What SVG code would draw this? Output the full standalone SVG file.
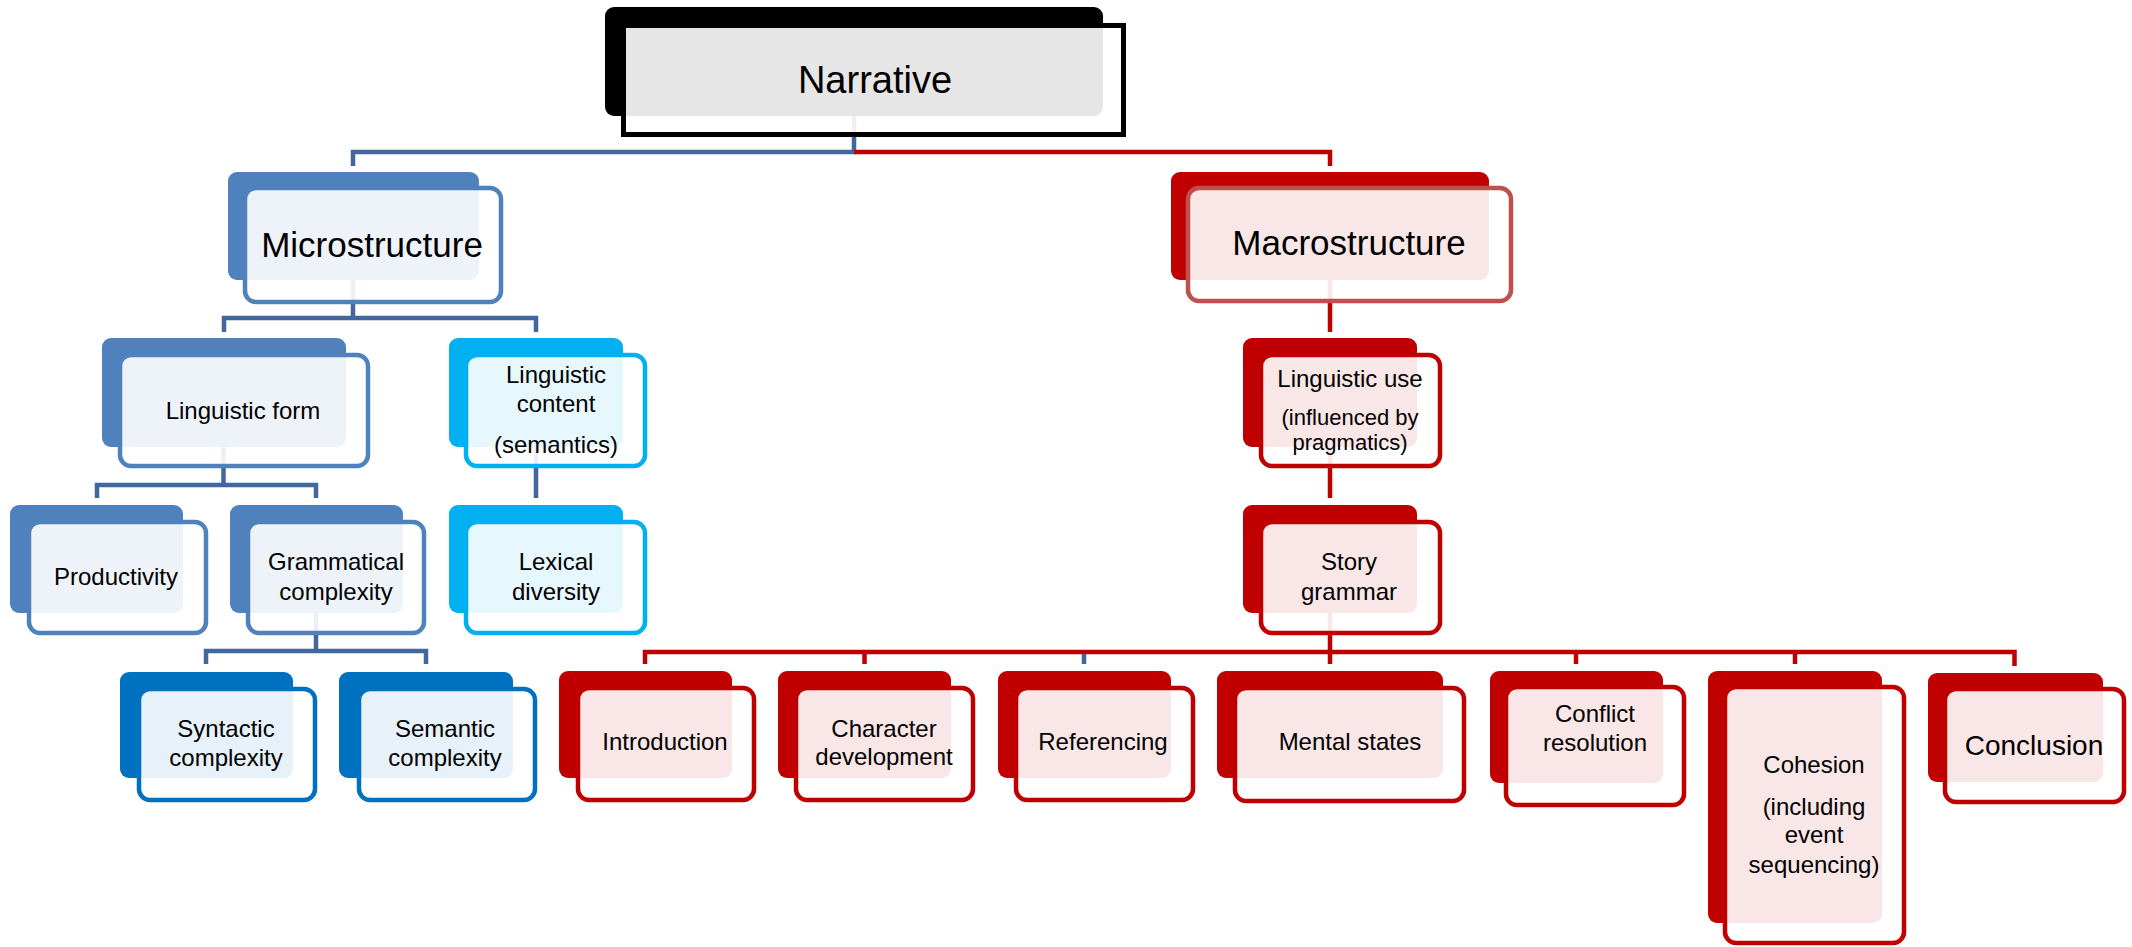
<svg xmlns="http://www.w3.org/2000/svg" width="2132" height="947" viewBox="0 0 2132 947">
<style>
.t{font-family:"Liberation Sans",Arial,sans-serif;fill:#000;text-anchor:middle;font-size:24px}
.f38{font-size:38px}.f35{font-size:35px}.f28{font-size:28px}.f22{font-size:22px}
.fr{fill:#fff;fill-opacity:.9;stroke-width:4.5}
.k{fill:#000}.ks{stroke:#000;stroke-width:5}
.b{fill:#4F81BD}.bs{stroke:#4F81BD}
.c{fill:#00B0F0}.cs{stroke:#00B0F0}
.d{fill:#0070C0}.ds{stroke:#0070C0}
.r{fill:#C00000}.rs{stroke:#C00000}.rs2{stroke:#C0504D}
.cb{fill:none;stroke:#41679C;stroke-width:4.5}
.cr{fill:none;stroke:#C00000;stroke-width:4.5}
</style>
<rect width="2132" height="947" fill="#fff"/>
<g id="connectors">
<path class="cb" d="M854,116V152H353V166"/>
<path class="cr" d="M854,152H1330V166"/>
<path class="cb" d="M353,280V318M224,332V318H536V332"/>
<path class="cb" d="M223.5,447V485M97,498V485H316V498"/>
<path class="cb" d="M536,447V498"/>
<path class="cb" d="M316,613V651M206,664V651H426V664"/>
<path class="cr" d="M1330,280V332"/>
<path class="cr" d="M1330,447V498"/>
<path class="cr" d="M1330,613V664M645,664V652H2014.5V666M864.5,652V664M1576,652V664M1795,652V664"/>
<path class="cb" d="M1084,654V664"/>
</g>
<g id="n-narrative">
<rect class="k" x="605" y="7" width="498" height="109" rx="9"/>
<rect class="fr ks" x="623.5" y="25.5" width="500" height="109"/>
<text class="t f38" x="875" y="93">Narrative</text>
</g>
<g id="n-micro">
<rect class="b" x="228" y="172" width="251" height="108" rx="9"/>
<rect class="fr bs" x="245" y="188" width="256" height="114" rx="11"/>
<text class="t f35" x="372" y="257">Microstructure</text>
</g>
<g id="n-lform">
<rect class="b" x="102" y="338" width="244" height="109" rx="9"/>
<rect class="fr bs" x="120" y="355" width="248" height="111" rx="11"/>
<text class="t" x="243" y="419">Linguistic form</text>
</g>
<g id="n-lcontent">
<rect class="c" x="449" y="338" width="174" height="109" rx="9"/>
<rect class="fr cs" x="466" y="355" width="179" height="111" rx="11"/>
<text class="t" x="556" y="383">Linguistic</text>
<text class="t" x="556" y="412">content</text>
<text class="t" x="556" y="453">(semantics)</text>
</g>
<g id="n-productivity">
<rect class="b" x="10" y="505" width="173" height="108" rx="9"/>
<rect class="fr bs" x="29" y="522" width="177" height="111" rx="11"/>
<text class="t" x="116" y="585">Productivity</text>
</g>
<g id="n-grammatical">
<rect class="b" x="230" y="505" width="173" height="108" rx="9"/>
<rect class="fr bs" x="248" y="522" width="176" height="111" rx="11"/>
<text class="t" x="336" y="570">Grammatical</text>
<text class="t" x="336" y="600">complexity</text>
</g>
<g id="n-lexical">
<rect class="c" x="449" y="505" width="174" height="108" rx="9"/>
<rect class="fr cs" x="466" y="522" width="179" height="111" rx="11"/>
<text class="t" x="556" y="570">Lexical</text>
<text class="t" x="556" y="600">diversity</text>
</g>
<g id="n-syntactic">
<rect class="d" x="120" y="672" width="173" height="106" rx="9"/>
<rect class="fr ds" x="139" y="689" width="176" height="111" rx="11"/>
<text class="t" x="226" y="737">Syntactic</text>
<text class="t" x="226" y="766">complexity</text>
</g>
<g id="n-semantic">
<rect class="d" x="339" y="672" width="174" height="106" rx="9"/>
<rect class="fr ds" x="359" y="689" width="176" height="111" rx="11"/>
<text class="t" x="445" y="737">Semantic</text>
<text class="t" x="445" y="766">complexity</text>
</g>
<g id="n-macro">
<rect class="r" x="1171" y="172" width="318" height="108" rx="9"/>
<rect class="fr rs2" x="1188" y="188" width="323" height="113" rx="11"/>
<text class="t f35" x="1349" y="255">Macrostructure</text>
</g>
<g id="n-luse">
<rect class="r" x="1243" y="338" width="174" height="109" rx="9"/>
<rect class="fr rs" x="1261" y="355" width="179" height="111" rx="11"/>
<text class="t" x="1350" y="387">Linguistic use</text>
<text class="t f22" x="1350" y="425">(influenced by</text>
<text class="t f22" x="1350" y="450">pragmatics)</text>
</g>
<g id="n-story">
<rect class="r" x="1243" y="505" width="174" height="108" rx="9"/>
<rect class="fr rs" x="1261" y="522" width="179" height="111" rx="11"/>
<text class="t" x="1349" y="570">Story</text>
<text class="t" x="1349" y="600">grammar</text>
</g>
<g id="n-intro">
<rect class="r" x="559" y="671" width="173" height="107" rx="9"/>
<rect class="fr rs" x="578" y="688" width="176" height="112" rx="11"/>
<text class="t" x="665" y="750">Introduction</text>
</g>
<g id="n-character">
<rect class="r" x="778" y="671" width="173" height="107" rx="9"/>
<rect class="fr rs" x="796" y="688" width="177" height="112" rx="11"/>
<text class="t" x="884" y="737">Character</text>
<text class="t" x="884" y="765">development</text>
</g>
<g id="n-referencing">
<rect class="r" x="998" y="671" width="173" height="107" rx="9"/>
<rect class="fr rs" x="1016" y="688" width="177" height="112" rx="11"/>
<text class="t" x="1103" y="750">Referencing</text>
</g>
<g id="n-mental">
<rect class="r" x="1217" y="671" width="226" height="107" rx="9"/>
<rect class="fr rs" x="1235" y="688" width="229" height="113" rx="11"/>
<text class="t" x="1350" y="750">Mental states</text>
</g>
<g id="n-conflict">
<rect class="r" x="1490" y="671" width="173" height="112" rx="9"/>
<rect class="fr rs" x="1506" y="687" width="178" height="118" rx="11"/>
<text class="t" x="1595" y="722">Conflict</text>
<text class="t" x="1595" y="751">resolution</text>
</g>
<g id="n-cohesion">
<rect class="r" x="1708" y="671" width="174" height="252" rx="9"/>
<rect class="fr rs" x="1725" y="687" width="179" height="256" rx="11"/>
<text class="t" x="1814" y="773">Cohesion</text>
<text class="t" x="1814" y="815">(including</text>
<text class="t" x="1814" y="843">event</text>
<text class="t" x="1814" y="873">sequencing)</text>
</g>
<g id="n-conclusion">
<rect class="r" x="1928" y="673" width="175" height="109" rx="9"/>
<rect class="fr rs" x="1945" y="689" width="179" height="113" rx="11"/>
<text class="t f28" x="2034" y="755">Conclusion</text>
</g>
</svg>
